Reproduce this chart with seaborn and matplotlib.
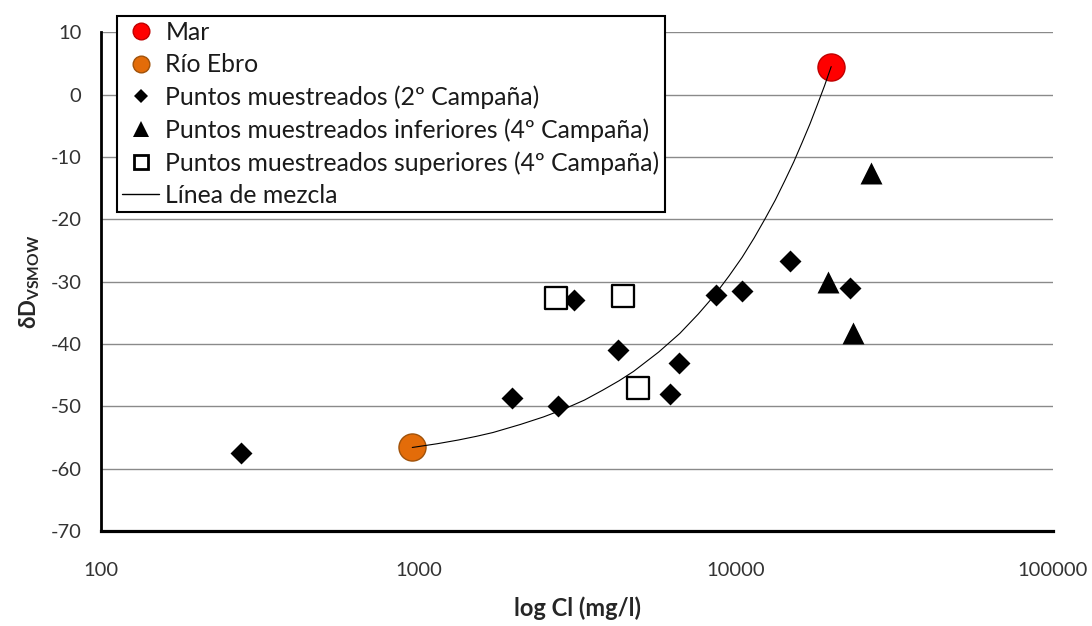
import numpy as np
import pandas as pd
import matplotlib
matplotlib.use("Agg")
import matplotlib.pyplot as plt
from matplotlib.lines import Line2D
from matplotlib.ticker import FixedLocator, LogLocator, NullFormatter
import seaborn as sns

# End members
mar_cl = [20000]
mar_dd = [4.5]
ebro_cl = [957]
ebro_dd = [-56.6]

# Puntos muestreados (2º Campaña)
c2_cl = [277, 1967, 2758, 3105, 4261, 6194, 6644, 8690, 10470, 14860, 22950]
c2_dd = [-57.5, -48.7, -50.0, -32.9, -40.9, -48.0, -43.0, -32.1, -31.5, -26.7, -31.0]

# Puntos muestreados inferiores (4º Campaña)
inf_cl = [19610, 23390, 26700]
inf_dd = [-30.0, -38.3, -12.6]

# Puntos muestreados superiores (4º Campaña)
sup_cl = [2725, 4405, 4926]
sup_dd = [-32.6, -32.3, -47.0]

# Línea de mezcla (Río Ebro -> Mar)
mix_cl = [957, 1147, 1338, 1528, 1719, 2100, 2480, 2861, 3337, 3813, 4290, 4766,
          5718, 6670, 7622, 8574, 9526, 10479, 11431, 12383, 13335, 14287, 15239,
          16191, 17144, 18096, 19048, 20000]
mix_dd = [-56.6, -56.0, -55.4, -54.8, -54.2, -52.9, -51.7, -50.5, -49.0, -47.4, -45.9, -44.4,
          -41.3, -38.3, -35.2, -32.2, -29.1, -26.1, -23.0, -19.9, -16.9, -13.8, -10.8,
          -7.7, -4.7, -1.6, 1.4, 4.5]

xticks = [100, 1000, 10000, 100000]
xticklabels = ["100", "1000", "10000", "100000"]
yticks = [-70, -60, -50, -40, -30, -20, -10, 0, 10]

labels = ["Mar", "Río Ebro", "Puntos muestreados (2º Campaña)",
          "Puntos muestreados inferiores (4º Campaña)",
          "Puntos muestreados superiores (4º Campaña)", "Línea de mezcla"]

sns.set_style("white")
plt.rcParams["font.family"] = ["Lato", "DejaVu Sans"]

W, H = 1092, 626
fig = plt.figure(figsize=(W / 100, H / 100), dpi=100)
ax = fig.add_axes([101 / W, (H - 531) / H, (1053 - 101) / W, (531 - 32.3) / H])
ax.set_xscale("log")

# points
sns.scatterplot(x=c2_cl, y=c2_dd, marker="D", s=125, color="black",
                edgecolor="black", linewidth=0, ax=ax, legend=False, zorder=3)
sns.scatterplot(x=inf_cl, y=inf_dd, marker="^", s=250, color="black",
                edgecolor="black", linewidth=0, ax=ax, legend=False, zorder=3)
sns.scatterplot(x=sup_cl, y=sup_dd, marker="s", s=266, color="white",
                edgecolor="black", linewidth=1.65, ax=ax, legend=False, zorder=3)
sns.scatterplot(x=mar_cl, y=mar_dd, marker="o", s=380, color="#FF0000",
                edgecolor="#C00000", linewidth=1, ax=ax, legend=False, zorder=3)
sns.scatterplot(x=ebro_cl, y=ebro_dd, marker="o", s=380, color="#E36C09",
                edgecolor="#A0520A", linewidth=1, ax=ax, legend=False, zorder=3)
sns.lineplot(x=mix_cl, y=mix_dd, sort=False, estimator=None, color="black",
             lw=0.8, ax=ax, legend=False, zorder=5)

# axes
ax.set_xlim(100, 100000)
ax.set_ylim(-70, 10)
ax.xaxis.set_major_locator(FixedLocator(xticks))
ax.set_xticklabels(xticklabels)
ax.xaxis.set_minor_locator(LogLocator(base=10, subs=np.arange(2, 10)))
ax.xaxis.set_minor_formatter(NullFormatter())
ax.set_yticks(yticks)
ax.set_yticklabels([str(v) for v in yticks])

ax.yaxis.grid(True, color="#8a8a8a", lw=1.0)
ax.xaxis.grid(False)
ax.set_axisbelow(True)
for s in ["top", "right"]:
    ax.spines[s].set_visible(False)
ax.spines["left"].set_linewidth(2.0)
ax.spines["bottom"].set_linewidth(2.3)
ax.spines["left"].set_color("black")
ax.spines["bottom"].set_color("black")

ax.tick_params(axis="y", length=0, pad=14, labelsize=14.5, labelcolor="#333333")
ax.tick_params(axis="x", which="major", direction="out", length=4, width=1.5,
               color="black", pad=18, labelsize=14.5, labelcolor="#333333")
ax.tick_params(axis="x", which="minor", direction="out", length=2.5, width=1.2,
               color="black")

ax.set_xlabel("log Cl (mg/l)", fontsize=17, fontweight="bold", va="center")
ax.xaxis.set_label_coords(0.5, (531 - 608) / (531 - 32.3))
ax.set_ylabel("δD$_\\mathregular{VSMOW}$", fontsize=16, fontweight="bold",
              va="center", ha="center")
ax.yaxis.set_label_coords((30 - 101) / (1053 - 101), 0.5)

# legend
handles = [
    Line2D([], [], ls="none", marker="o", ms=12, mfc="#FF0000", mec="#C00000", mew=1),
    Line2D([], [], ls="none", marker="o", ms=12, mfc="#E36C09", mec="#A0520A", mew=1),
    Line2D([], [], ls="none", marker="D", ms=7.3, mfc="black", mec="black", mew=0),
    Line2D([], [], ls="none", marker="^", ms=12, mfc="black", mec="black", mew=0),
    Line2D([], [], ls="none", marker="s", ms=10.6, mfc="white", mec="black", mew=2),
    Line2D([], [], color="black", lw=1),
]
leg = fig.legend(handles, labels, loc="upper left",
                 bbox_to_anchor=(116.7 / W, 1 - 15.7 / H),
                 bbox_transform=fig.transFigure, borderaxespad=0,
                 fontsize=17.8, frameon=True, fancybox=False, framealpha=1,
                 edgecolor="black", borderpad=0.22, labelspacing=0.37,
                 handlelength=1.5, handletextpad=0.25)
leg.get_frame().set_linewidth(1.5)
for t in leg.get_texts():
    t.set_color("#1a1a1a")

fig.savefig("out.png", dpi=100)
